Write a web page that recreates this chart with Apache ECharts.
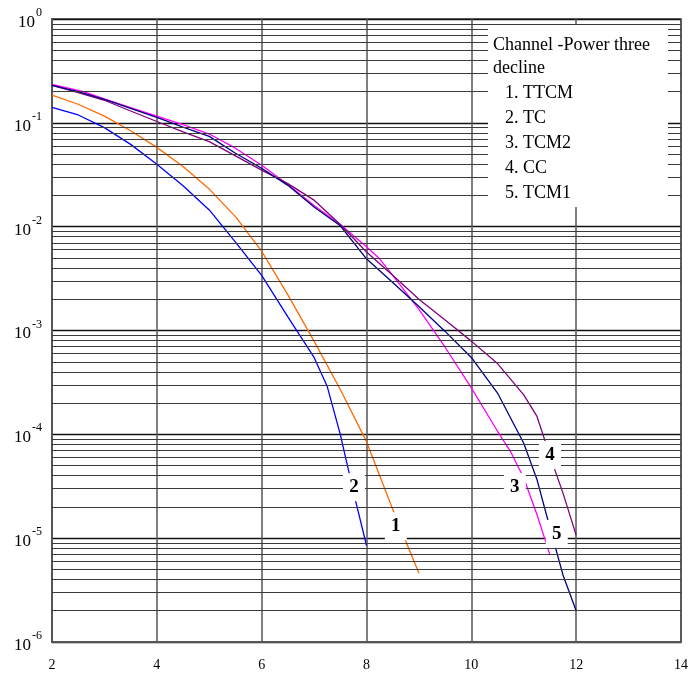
<!DOCTYPE html>
<html><head><meta charset="utf-8">
<script src="https://cdn.jsdelivr.net/npm/echarts@6/dist/echarts.min.js"></script>
<style>html,body{margin:0;padding:0;background:#fff}#c{width:691px;height:677px}</style>
</head><body><div id="c"></div>
<script>
// ---- data (x = SNR, y = error rate) ----
const ttcm = [[2,0.185],[2.5,0.151],[3,0.116],[3.5,0.084],[4,0.058],[4.5,0.038],[5,0.023],[5.5,0.0125],[6,0.0058],[6.5,0.0022],[7,7.9e-4],[7.5,2.7e-4],[8,8.5e-5],[8.5,1.9e-5],[9,4.6e-6]];
const tc = [[2,0.141],[2.5,0.119],[3,0.090],[3.5,0.062],[4,0.040],[4.5,0.0248],[5,0.0145],[5.5,0.0071],[6,0.0034],[6.5,0.00135],[7,5.5e-4],[7.25,2.9e-4],[7.5,1.0e-4],[7.6,6e-5],[7.8,2.2e-5],[8,8.5e-6]];
const tcm2 = [[2,0.235],[2.6,0.2],[3,0.17],[3.5,0.14],[4,0.116],[4.5,0.096],[5,0.078],[5.5,0.057],[6,0.039],[6.5,0.0255],[7,0.016],[7.5,0.0105],[8,0.0064],[8.25,0.0049],[8.5,0.0034],[9,0.0016],[9.5,6.9e-4],[10,2.8e-4],[10.5,1.07e-4],[10.75,6.8e-5],[11,3.8e-5],[11.25,1.7e-5],[11.5,6.9e-6]];
const cc = [[2,0.23],[2.5,0.195],[3,0.165],[3.5,0.13],[4,0.103],[4.5,0.082],[5,0.066],[5.5,0.048],[6,0.035],[6.5,0.026],[7,0.018],[7.5,0.0105],[8,0.0057],[8.5,0.0034],[9,0.002],[9.5,0.00126],[10,7.9e-4],[10.5,4.8e-4],[11,2.4e-4],[11.25,1.5e-4],[11.5,6.2e-5],[11.75,2.7e-5],[12,1.07e-5]];
const tcm1 = [[2,0.23],[2.5,0.2],[3,0.168],[3.5,0.138],[4,0.113],[4.5,0.091],[5,0.074],[5.5,0.051],[6,0.0365],[6.5,0.025],[7,0.0155],[7.5,0.0102],[8,0.0049],[8.5,0.0029],[9,0.0017],[9.5,9.8e-4],[10,5.5e-4],[10.5,2.5e-4],[11,8.2e-5],[11.25,3.7e-5],[11.5,1.26e-5],[11.75,4.4e-6],[12,2.0e-6]];
const seriesNames = ['TTCM','TC','TCM2','CC','TCM1'];
const tagTexts = ['2','1','3','4','5'];
const tagAnchors = [[7.76,3.1e-5],[8.56,1.3e-5],[10.83,3.1e-5],[11.5,6.3e-5],[11.63,1.1e-5]];
const legendTitle = ['Channel -Power three','decline'];
const legendItems = ['1. TTCM','2. TC','3. TCM2','4. CC','5. TCM1'];

const FONT = "'Liberation Serif','Times New Roman',serif";
const colors = ['#FF6A00','#0000FF','#FF00FF','#800080','#000080'];
const datasets = [ttcm, tc, tcm2, cc, tcm1];

// minor log gridlines 2..9 x 10^k
const minorLines = [];
for (let k = -6; k < 0; k++) for (let m = 2; m <= 9; m++) minorLines.push({yAxis: m * Math.pow(10, k)});

const series = datasets.map((d, i) => ({
  name: seriesNames[i], type: 'line', data: d, showSymbol: false, symbol: 'none',
  lineStyle: {color: colors[i], width: 1.3}, z: 3, silent: true, animation: false
}));
series.unshift({
  type: 'line', data: [], z: 1, silent: true, animation: false,
  markLine: {silent: true, symbol: 'none', animation: false, precision: 12, label: {show: false},
    lineStyle: {color: '#3a3a3a', width: 1, type: 'solid'}, data: minorLines}
});
series.push({
  type: 'scatter', data: tagAnchors, symbol: 'rect', symbolSize: [22, 28], z: 10, silent: true, animation: false,
  itemStyle: {color: '#fff', opacity: 1},
  label: {show: true, position: 'inside', formatter: p => tagTexts[p.dataIndex],
    fontFamily: FONT, fontWeight: 'bold', fontSize: 19, color: '#000'}
});

const graphic = [{type: 'rect', z: 100, shape: {x: 488, y: 25, width: 180, height: 182}, style: {fill: '#fff'}}];
legendTitle.forEach((t, i) => graphic.push({type: 'text', z: 101, x: 493, y: 45 + i * 23.5,
  style: {text: t, font: '18px ' + FONT, fill: '#000', verticalAlign: 'middle'}}));
legendItems.forEach((t, i) => graphic.push({type: 'text', z: 101, x: 505, y: 93 + i * 25,
  style: {text: t, font: '18px ' + FONT, fill: '#000', verticalAlign: 'middle'}}));

const chart = echarts.init(document.getElementById('c'), null, {renderer: 'canvas'});
chart.setOption({
  animation: false,
  backgroundColor: '#fff',
  grid: {left: 52, right: 6, top: 19, bottom: 35, show: true, borderColor: '#444', borderWidth: 1.5},
  xAxis: {type: 'value', min: 2, max: 14, interval: 2,
    axisLine: {show: true, onZero: false, lineStyle: {color: '#555', width: 2}},
    axisTick: {show: false},
    axisLabel: {fontFamily: FONT, fontSize: 14, color: '#000', margin: 16},
    splitLine: {show: true, lineStyle: {color: '#555', width: 1.5}}},
  yAxis: {type: 'log', logBase: 10, min: 1e-6, max: 1,
    axisLine: {show: true, lineStyle: {color: '#555', width: 2}},
    axisTick: {show: false},
    axisLabel: {margin: 10, color: '#000',
      formatter: v => '{b|10}{s|' + Math.round(Math.log10(v)) + '}',
      rich: {
        b: {fontFamily: FONT, fontSize: 17, verticalAlign: 'bottom', padding: [7, 1, 0, 0], color: '#000'},
        s: {fontFamily: FONT, fontSize: 12, verticalAlign: 'top', padding: [0, 0, 7, 0], color: '#000'}
      }},
    splitLine: {show: true, lineStyle: {color: '#111', width: 1.3}}},
  series: series,
  graphic: graphic
});
</script></body></html>
